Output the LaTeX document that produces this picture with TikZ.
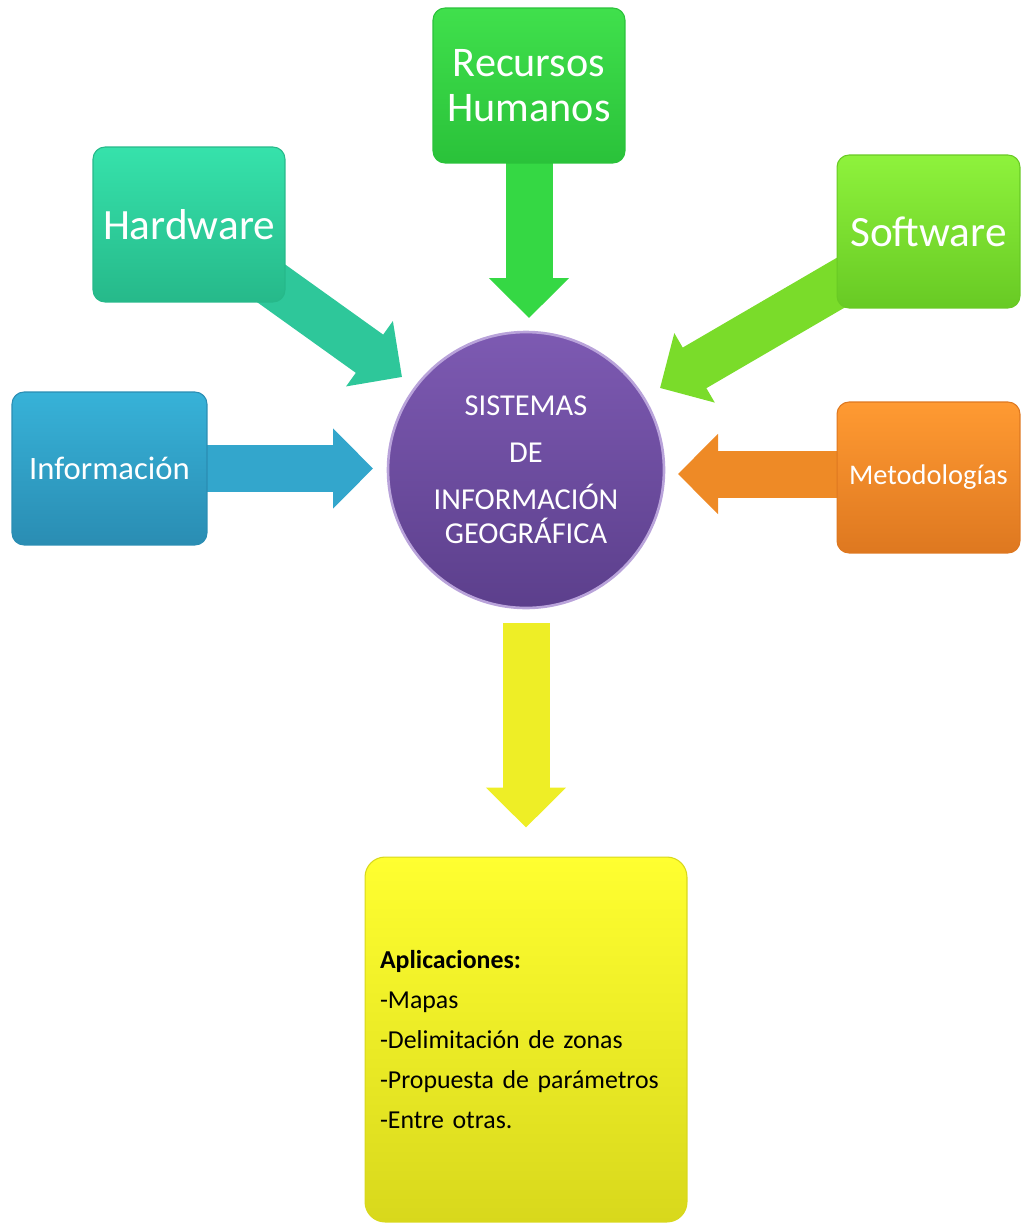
\documentclass[tikz,border=0pt]{standalone}
\usepackage{fontspec}
\setmainfont{Carlito}
\usetikzlibrary{arrows.meta,backgrounds,shadings}
\definecolor{hwT}{HTML}{36E2AB}\definecolor{hwB}{HTML}{26B98A}\definecolor{hwA}{HTML}{2EC79A}
\definecolor{rhT}{HTML}{40E04C}\definecolor{rhB}{HTML}{2AC23A}\definecolor{rhA}{HTML}{35D844}
\definecolor{swT}{HTML}{8EF23C}\definecolor{swB}{HTML}{68CA24}\definecolor{swA}{HTML}{7ADC2A}
\definecolor{inT}{HTML}{37B2D8}\definecolor{inB}{HTML}{2A8DB3}\definecolor{inA}{HTML}{33A6CC}
\definecolor{mtT}{HTML}{FF9A32}\definecolor{mtB}{HTML}{DE7820}\definecolor{mtA}{HTML}{EE8A26}
\definecolor{ciT}{HTML}{7D5AB2}\definecolor{ciB}{HTML}{5C3F8C}\definecolor{ciD}{HTML}{B9A3DA}
\definecolor{yeT}{HTML}{FFFF30}\definecolor{yeB}{HTML}{D8D81C}\definecolor{yeA}{HTML}{EEEE26}
\begin{document}
\begin{tikzpicture}[x=0.02cm,y=-0.02cm,
  box/.style={rectangle, rounded corners=0.24cm, inner sep=0pt, text=white, align=center, line width=0.6pt},
  blockarrow/.style={line width=0.94cm, -{Triangle[length=0.8cm, width=1.56cm]}},
  big/.style={font=\fontsize{24.6}{26}\selectfont}]
\useasboundingbox (0,0) rectangle (1021,1224);

\node[box, big, minimum width=3.84cm, minimum height=3.1cm, top color=hwT, bottom color=hwB, draw=hwB] (hw) at (189,224.5) {Hardware};
\node[box, font=\fontsize{24}{26}\selectfont, minimum width=3.84cm, minimum height=3.1cm, top color=rhT, bottom color=rhB, draw=rhB] (rh) at (529,85.5) {Recursos\\Humanos};
\node[box, big, minimum width=3.66cm, minimum height=3.06cm, top color=swT, bottom color=swB, draw=swB] (sw) at (928.5,231.5) {Software};
\node[box, font=\fontsize{18.6}{20}\selectfont, minimum width=3.9cm, minimum height=3.06cm, top color=inT, bottom color=inB, draw=inB] (inf) at (109.5,468.5) {Información};
\node[box, font=\fontsize{16.2}{18}\selectfont, minimum width=3.66cm, minimum height=3.02cm, top color=mtT, bottom color=mtB, draw=mtB] (met) at (928.5,477.5) {Metodologías};
\node[circle, minimum size=5.52cm, inner sep=0pt, top color=ciT, bottom color=ciB, draw=ciD, line width=1.5pt, text=white, align=center, font=\fontsize{17.3}{19.3}\selectfont] (cen) at (526,470) {SISTEMAS\\[7.4pt]DE\\[7.4pt]INFORMACIÓN\\GEOGRÁFICA};
\node[box, rounded corners=0.4cm, minimum width=6.44cm, minimum height=7.3cm, text width=5.84cm, inner xsep=0.3cm, align=left, text=black, top color=yeT, bottom color=yeB, draw=yeB, font=\fontsize{14.7}{22.7}\selectfont] (app) at (526,1039.5) {\textbf{Aplicaciones:}\\-Mapas\\-Delimitación de zonas\\-Propuesta de parámetros\\-Entre otras.};

\coordinate (hwtip) at (402,377);
\coordinate (rhtip) at (529,318);
\coordinate (swtip) at (660,388);
\coordinate (inftip) at (373,468.5);
\coordinate (mettip) at (678,474);

\begin{pgfonlayer}{background}
\draw[blockarrow, hwA] (hw.center) -- (hwtip);
\draw[blockarrow, rhA] (rh.center) -- (rhtip);
\draw[blockarrow, swA] (sw.center) -- (swtip);
\draw[blockarrow, inA] (inf.center) -- (inftip);
\draw[blockarrow, mtA] (met.center |- mettip) -- (mettip);
\draw[blockarrow, yeA, shorten <=0.28cm, shorten >=0.58cm] (cen.south) -- (app.north);
\end{pgfonlayer}
\end{tikzpicture}
\end{document}
